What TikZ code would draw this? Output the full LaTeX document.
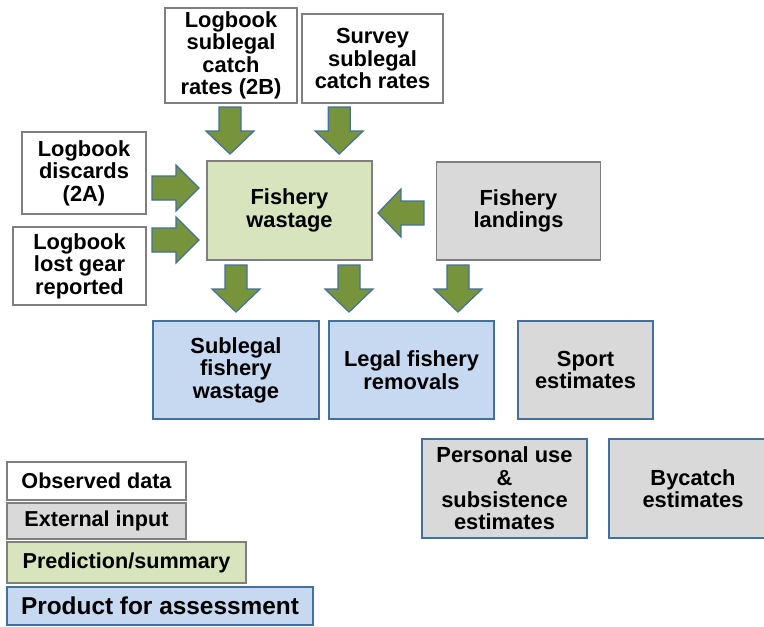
\documentclass[tikz,border=0pt]{standalone}
\usepackage{fontspec}
\setmainfont{Liberation Sans}
\usetikzlibrary{calc}
\definecolor{arrowgreen}{HTML}{77933C}
\definecolor{arrowedge}{HTML}{41719C}
\definecolor{boxgray}{HTML}{7F7F7F}
\definecolor{fillgreen}{HTML}{D7E4BD}
\definecolor{fillgray}{HTML}{D9D9D9}
\definecolor{fillblue}{HTML}{C6D9F1}
\definecolor{edgeblue}{HTML}{41719C}
\newcommand{\blkdown}[1]{\draw[blk] (#1) -- ++(-24,-23) -- ++(13,0) -- ++(0,-24) -- ++(22,0) -- ++(0,24) -- ++(13,0) -- cycle;}
\newcommand{\blkright}[1]{\draw[blk] (#1) -- ++(-23,-23) -- ++(0,11) -- ++(-24,0) -- ++(0,24) -- ++(24,0) -- ++(0,11) -- cycle;}
\newcommand{\blkleft}[1]{\draw[blk] (#1) -- ++(23,-24) -- ++(0,12) -- ++(23,0) -- ++(0,24) -- ++(-23,0) -- ++(0,12) -- cycle;}
\begin{document}
\begin{tikzpicture}[x=0.75pt,y=-0.75pt,
  font=\bfseries\fontsize{16.4}{16.8}\selectfont,
  legfont/.style={font=\bfseries\fontsize{16.2}{17}\selectfont},
  box/.style={draw=boxgray, line width=1.4pt, align=center, inner sep=0pt},
  obs/.style={box, fill=white},
  ext/.style={box, fill=fillgray},
  extb/.style={box, fill=fillgray, draw=edgeblue},
  pred/.style={box, fill=fillgreen},
  prod/.style={box, fill=fillblue, draw=edgeblue},
  blk/.style={fill=arrowgreen, draw=arrowedge, line width=0.9pt, line join=miter}]
\useasboundingbox (0,0) rectangle (764,626);
\clip (0,0) rectangle (764,626);
\fill[white] (0,0) rectangle (764,626);

% input boxes
\node[obs, minimum width=99pt, minimum height=71.25pt] (lb2b) at (231,55.5) {Logbook\\sublegal\\catch\\rates (2B)};
\node[obs, minimum width=105.75pt, minimum height=66.75pt] (survey) at (372.5,58.5) {Survey\\sublegal\\catch rates};
\node[obs, minimum width=93pt, minimum height=61.5pt] (lb2a) at (84,173) {Logbook\\discards\\(2A)};
\node[obs, minimum width=99.75pt, minimum height=58.5pt] (lost) at (79.5,266) {Logbook\\lost gear\\reported};
\node[pred, minimum width=123.75pt, minimum height=74.25pt] (wastage) at (289.5,210.5) {Fishery\\wastage};
\node[ext, minimum width=123pt, minimum height=73.5pt] (landings) at (518.5,211) {Fishery\\landings};

% products
\node[prod, minimum width=124.5pt, minimum height=73.5pt] (sublegal) at (236,370) {Sublegal\\fishery\\wastage};
\node[prod, minimum width=123.75pt, minimum height=73.5pt] (legal) at (411.5,370) {Legal fishery\\removals};
\node[extb, minimum width=101.25pt, minimum height=73.5pt] (sport) at (585.5,370) {Sport\\estimates};
\node[extb, minimum width=123.75pt, minimum height=74.25pt] (personal) at (504.5,488.5) {Personal use\\\&\\subsistence\\estimates};
\node[extb, minimum width=126pt, minimum height=74.25pt] (bycatch) at (693,488.5) {Bycatch\\estimates};

% legend
\node[obs, minimum width=134.25pt, minimum height=28.5pt, legfont] (lgobs) at (96.5,481) {Observed data};
\node[ext, minimum width=134.25pt, minimum height=27pt, legfont] (lgext) at (96.5,521) {External input};
\node[pred, minimum width=179.25pt, minimum height=30.75pt, legfont] (lgpred) at (126.5,562.5) {Prediction/summary};
\node[prod, minimum width=229.5pt, minimum height=28.5pt, font=\bfseries\fontsize{18.3}{19}\selectfont] (lgprod) at (160,606) {Product for assessment};

% block arrows (connectors)
\coordinate (a1) at ([xshift=-0.75pt,yshift=4.5pt] lb2b.south |- wastage.north);
\coordinate (a2) at ([xshift=-25pt,yshift=4.5pt] survey.south |- wastage.north);
\coordinate (a3) at ($(wastage.west)+(-7,-22.5)$);
\coordinate (a4) at ($(wastage.west)+(-7,29.5)$);
\coordinate (a5) at ($(wastage.east)+(5,2.5)$);
\coordinate (a6) at ([yshift=6pt] sublegal.north);
\coordinate (a7) at ($(legal.north)+(-62.5,-8)$);
\coordinate (a8) at ($(legal.north)+(46.5,-8)$);
\blkdown{a1}
\blkdown{a2}
\blkright{a3}
\blkright{a4}
\blkleft{a5}
\blkdown{a6}
\blkdown{a7}
\blkdown{a8}
\end{tikzpicture}
\end{document}
